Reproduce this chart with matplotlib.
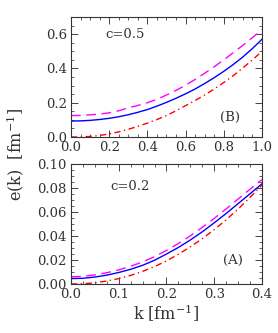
import matplotlib

matplotlib.use("Agg")
import matplotlib.pyplot as plt
from matplotlib.ticker import MultipleLocator

plt.rcParams["font.family"] = ["DejaVu Serif"]
plt.rcParams["mathtext.fontset"] = "dejavuserif"
plt.rcParams["font.size"] = 9.5

# panel (B), c=0.5
k_b = [0.0, 0.05, 0.1, 0.15, 0.2, 0.25, 0.3, 0.35, 0.4, 0.45, 0.5,
       0.55, 0.6, 0.65, 0.7, 0.75, 0.8, 0.85, 0.9, 0.95, 1.0]
solid_b = [0.093, 0.094, 0.097, 0.102, 0.109, 0.118, 0.13, 0.144, 0.16, 0.18, 0.202,
           0.226, 0.252, 0.28, 0.312, 0.346, 0.383, 0.423, 0.467, 0.516, 0.57]
dashed_b = [0.125, 0.126, 0.129, 0.134, 0.141, 0.153, 0.17, 0.184, 0.2, 0.22, 0.245,
            0.272, 0.302, 0.336, 0.372, 0.41, 0.45, 0.492, 0.535, 0.58, 0.625]
dashdot_b = [0.0, 0.0005, 0.003, 0.009, 0.018, 0.03, 0.045, 0.062, 0.081, 0.102, 0.125,
             0.153, 0.183, 0.213, 0.245, 0.28, 0.318, 0.358, 0.403, 0.45, 0.5]

# panel (A), c=0.2
k_a = [0.0, 0.025, 0.05, 0.075, 0.1, 0.125, 0.15, 0.175, 0.2,
       0.225, 0.25, 0.275, 0.3, 0.325, 0.35, 0.375, 0.4]
solid_a = [0.0045, 0.0048, 0.0058, 0.0074, 0.0096, 0.0123, 0.0156, 0.0198, 0.025,
           0.0305, 0.0367, 0.0435, 0.051, 0.0588, 0.067, 0.0752, 0.0835]
dashed_a = [0.006, 0.0064, 0.0076, 0.0094, 0.0118, 0.0148, 0.0184, 0.0228, 0.028,
            0.0338, 0.0402, 0.0472, 0.0547, 0.0626, 0.0708, 0.079, 0.087]
dashdot_a = [0.0, 0.0002, 0.001, 0.0025, 0.0045, 0.0072, 0.0105, 0.0145, 0.0193,
             0.0248, 0.031, 0.0378, 0.0453, 0.0535, 0.0625, 0.0722, 0.0825]

fig = plt.figure(figsize=(2.78, 3.33), dpi=100)
ax_top = fig.add_axes([0.2554, 0.5886, 0.687, 0.3604])
ax_bot = fig.add_axes([0.2554, 0.1471, 0.687, 0.3604])


def draw_panel(ax, k, solid, dashed, dashdot):
    ax.plot(k, dashed, color="#ff00ff", lw=1.0, linestyle=(0, (7, 4)))
    ax.plot(k, solid, color="#0000ff", lw=1.0)
    ax.plot(k, dashdot, color="#ff0000", lw=1.0, linestyle=(0, (4.5, 2.5, 1, 2.5)))
    ax.tick_params(which="both", direction="in", top=True, right=True,
                   colors="#444444", labelcolor="#333333", pad=3)
    ax.tick_params(which="major", length=5, width=0.7)
    ax.tick_params(which="minor", length=2.5, width=0.6)
    for s in ax.spines.values():
        s.set_linewidth(0.8)
        s.set_color("#333333")


draw_panel(ax_top, k_b, solid_b, dashed_b, dashdot_b)
ax_top.set_xlim(0, 1.0)
ax_top.set_ylim(0, 0.7)
ax_top.xaxis.set_major_locator(MultipleLocator(0.2))
ax_top.xaxis.set_minor_locator(MultipleLocator(0.05))
ax_top.yaxis.set_major_locator(MultipleLocator(0.2))
ax_top.yaxis.set_minor_locator(MultipleLocator(0.05))
ax_top.xaxis.set_major_formatter(lambda v, p: f"{v:.1f}")
ax_top.yaxis.set_major_formatter(lambda v, p: f"{v:.1f}")
ax_top.text(0.178, 0.85, "c=0.5", transform=ax_top.transAxes, ha="left", va="center",
            color="#333333")
ax_top.text(0.83, 0.16, "(B)", transform=ax_top.transAxes, ha="center", va="center",
            color="#333333")

draw_panel(ax_bot, k_a, solid_a, dashed_a, dashdot_a)
ax_bot.set_xlim(0, 0.4)
ax_bot.set_ylim(0, 0.1)
ax_bot.xaxis.set_major_locator(MultipleLocator(0.1))
ax_bot.xaxis.set_minor_locator(MultipleLocator(0.025))
ax_bot.yaxis.set_major_locator(MultipleLocator(0.02))
ax_bot.yaxis.set_minor_locator(MultipleLocator(0.005))
ax_bot.xaxis.set_major_formatter(lambda v, p: f"{v:.1f}")
ax_bot.yaxis.set_major_formatter(lambda v, p: f"{v:.2f}")
ax_bot.text(0.204, 0.81, "c=0.2", transform=ax_bot.transAxes, ha="left", va="center",
            color="#333333")
ax_bot.text(0.85, 0.2, "(A)", transform=ax_bot.transAxes, ha="center", va="center",
            color="#333333")

ax_bot.set_xlabel(r"$\mathrm{k}\ \left[\mathrm{fm}^{-1}\right]$", fontsize=11.5,
                  labelpad=1, color="#333333")
fig.text(0.054, 0.535, r"$\mathrm{e(k)}\ \ \left[\mathrm{fm}^{-1}\right]$", fontsize=11.5,
         rotation=90, ha="center", va="center", color="#333333")

plt.savefig("out.png", dpi=100)
